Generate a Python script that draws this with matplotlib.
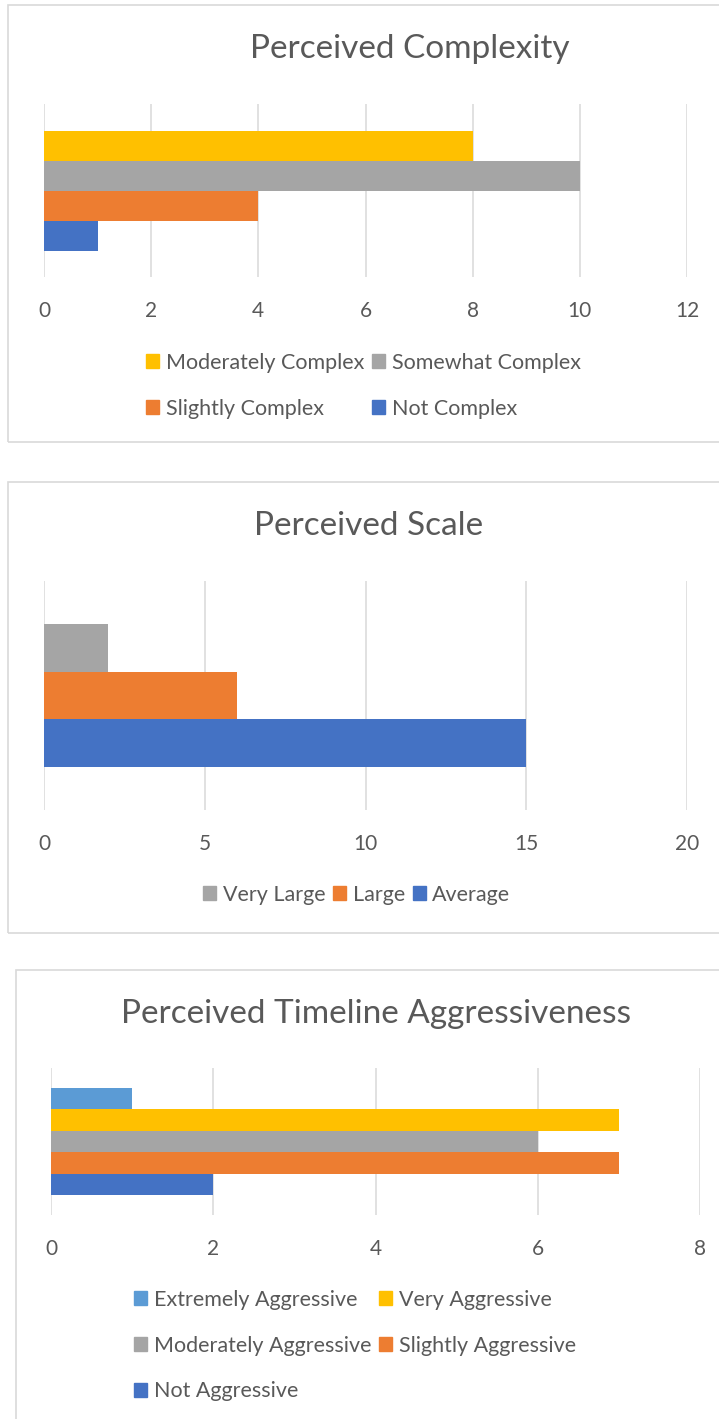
import matplotlib.pyplot as plt
from matplotlib.patches import Rectangle, Patch

W, H = 719, 1419
plt.rcParams['font.family'] = ['Lato', 'DejaVu Sans']
TEXT = '#595959'
GRID = '#D9D9D9'

# ---- data ----
complexity_labels = ['Not Complex', 'Slightly Complex', 'Somewhat Complex', 'Moderately Complex']
complexity_values = [1, 4, 10, 8]
complexity_colors = ['#4472C4', '#ED7D31', '#A5A5A5', '#FFC000']
complexity_ticks = [0, 2, 4, 6, 8, 10, 12]

scale_labels = ['Average', 'Large', 'Very Large']
scale_values = [15, 6, 2]
scale_colors = ['#4472C4', '#ED7D31', '#A5A5A5']
scale_ticks = [0, 5, 10, 15, 20]

timeline_labels = ['Not Aggressive', 'Slightly Aggressive', 'Moderately Aggressive',
                   'Very Aggressive', 'Extremely Aggressive']
timeline_values = [2, 7, 6, 7, 1]
timeline_colors = ['#4472C4', '#ED7D31', '#A5A5A5', '#FFC000', '#5B9BD5']
timeline_ticks = [0, 2, 4, 6, 8]

fig = plt.figure(figsize=(W / 100, H / 100), dpi=100)


def fx(x):
    return x / W


def fy(y):
    return 1 - y / H


def frame(x0, y0, x1, y1):
    fig.add_artist(Rectangle((fx(x0), fy(y1)), fx(x1) - fx(x0), fy(y0) - fy(y1),
                             transform=fig.transFigure, fill=False,
                             edgecolor=GRID, lw=1.2))


def panel(box, title, title_xy, labels, values, colors, ticks, bar_px,
          leg_xy, leg_order, ncol):
    x0, y0, x1, y1 = box
    ax = fig.add_axes([fx(x0), fy(y1), fx(x1) - fx(x0), fy(y0) - fy(y1)])
    n = len(values)
    h = bar_px / (y1 - y0)
    ypos = [i * h - (n - 1) * h / 2 for i in range(n)]
    ax.barh(ypos, values, height=h, color=colors, zorder=2)
    ax.set_ylim(-0.5, 0.5)
    ax.set_xlim(ticks[0], ticks[-1])
    ax.set_xticks(ticks)
    ax.set_yticks([])
    for t in ticks:
        ax.axvline(t, color=GRID, lw=1.1, zorder=1)
    for s in ax.spines.values():
        s.set_visible(False)
    ax.tick_params(axis='x', length=0, pad=17, labelsize=15, labelcolor=TEXT)
    fig.text(fx(title_xy[0]), fy(title_xy[1]), title, ha='center', va='center',
             fontsize=24, color=TEXT)
    handles = [Patch(color=colors[i]) for i in leg_order]
    lbls = [labels[i] for i in leg_order]
    fig.legend(handles, lbls, loc='upper left',
               bbox_to_anchor=(fx(leg_xy[0]), fy(leg_xy[1])),
               ncol=ncol, frameon=False, fontsize=15.5, labelcolor=TEXT,
               handlelength=0.62, handleheight=0.62, handletextpad=0.3,
               columnspacing=0.35, labelspacing=1.19, borderpad=0, borderaxespad=0)
    return ax


frame(8, 5, 760, 442)
frame(8, 482, 760, 933)
frame(16, 970, 760, 1460)

panel((44, 104, 687, 277), 'Perceived Complexity', (410, 49),
      complexity_labels, complexity_values, complexity_colors, complexity_ticks,
      30, (146, 353), [3, 1, 2, 0], 2)

panel((44, 581, 687, 810), 'Perceived Scale', (369, 526),
      scale_labels, scale_values, scale_colors, scale_ticks,
      47.7, (203, 885), [2, 1, 0], 3)

panel((51, 1068, 700, 1215), 'Perceived Timeline Aggressiveness', (376, 1014),
      timeline_labels, timeline_values, timeline_colors, timeline_ticks,
      21.4, (134, 1290), [4, 2, 0, 3, 1], 2)

fig.savefig('out.png', dpi=100)
